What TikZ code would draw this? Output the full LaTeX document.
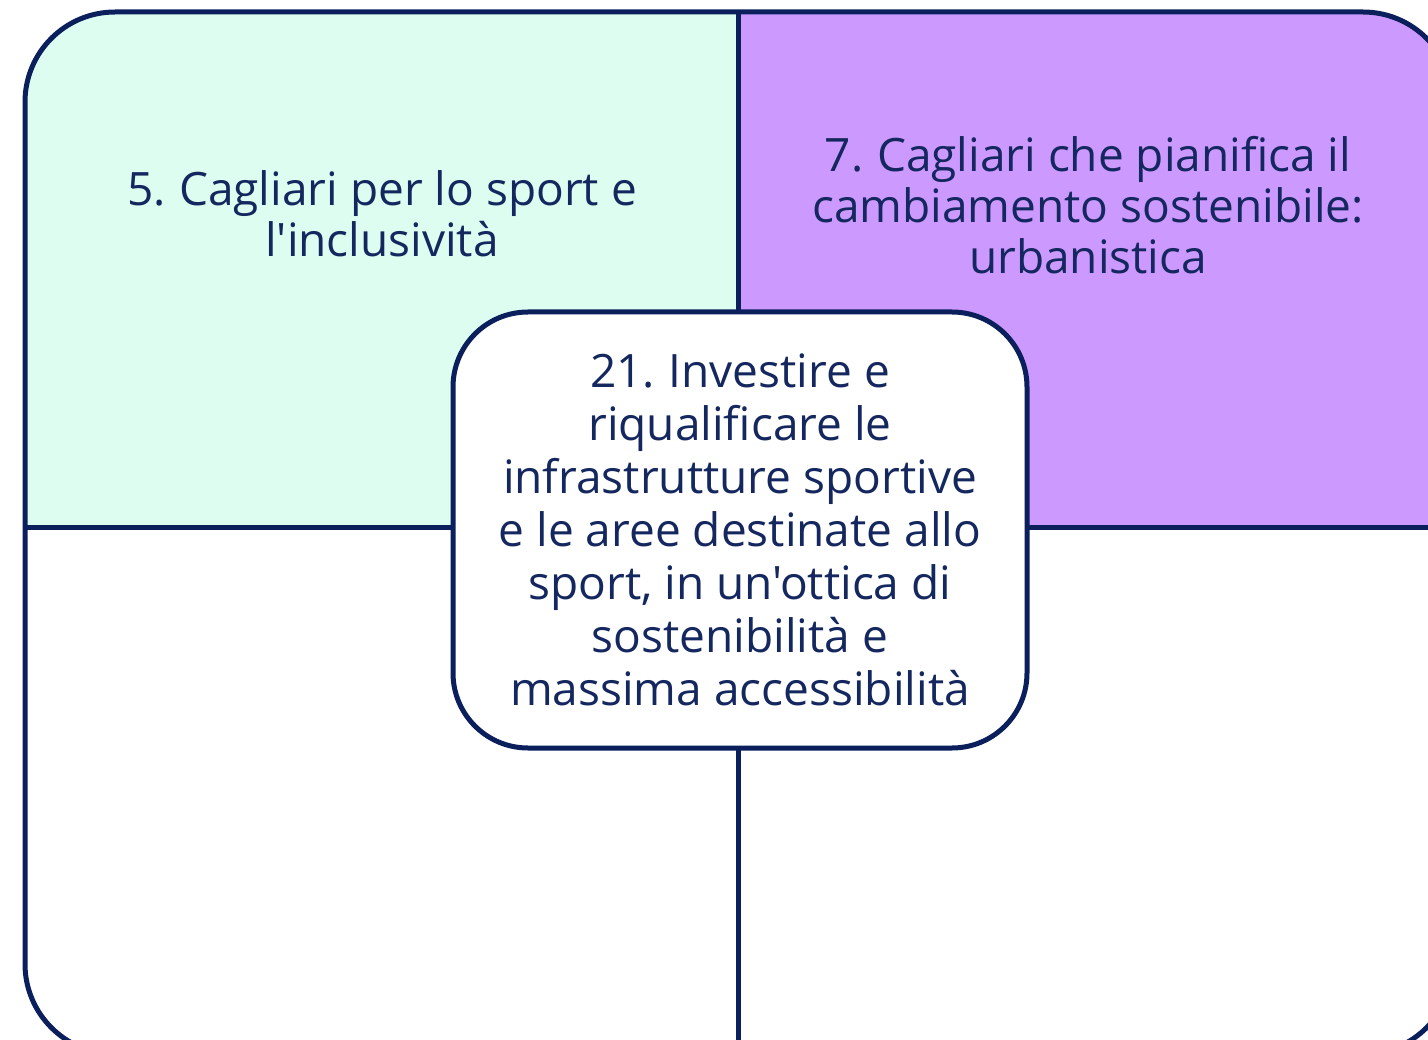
\documentclass[tikz,border=0pt]{standalone}
\usepackage{fontspec}
\setmainfont{Open Sans}[Ligatures=TeXOff]
\definecolor{navy}{HTML}{0A1F5C}
\definecolor{txt}{HTML}{14275E}
\definecolor{mint}{HTML}{DCFDF0}
\definecolor{purp}{HTML}{CC99FF}
\tikzset{
  divider/.style={draw=navy, line width=5pt},
  qlabel/.style={text=txt, align=center, font=\fontsize{46}{51}\selectfont, inner sep=0pt},
  centerbox/.style={draw=navy, fill=white, line width=5pt, rounded corners=75pt,
    minimum width=574pt, minimum height=436pt, align=center, inner sep=0pt,
    text=txt, font=\fontsize{46}{53}\selectfont}
}
\begin{document}
\begin{tikzpicture}[x=1pt,y=-1pt]
\useasboundingbox (0,0) rectangle (1428,1040);
\begin{scope}
  \clip (0,0) rectangle (1428,1040);
  \begin{scope}
    \clip[rounded corners=90pt] (25,12) rectangle (1453,1054);
    \fill[mint] (25,12) rectangle (738,528);
    \fill[purp] (738,12) rectangle (1453,528);
    \fill[white] (25,528) rectangle (1453,1054);
  \end{scope}
  \draw[divider] (738,12) -- (738,1054);
  \draw[divider] (25,528) -- (1453,528);
  \draw[divider, rounded corners=90pt] (25,12) rectangle (1453,1054);
\end{scope}
\node[qlabel] (tl) at (382,214) {5.\kern-0.05em{} Cagliari per lo sport e\\l'inclusività};
\node[qlabel] (tr) at (1088,205) {7.\kern-0.05em{} Cagliari che pianifica il\\cambiamento sostenibile:\\urbanistica};
\node[centerbox] (c) at (740,530) {21.\kern-0.05em{} Investire e\\riqualificare le\\infrastrutture sportive\\e le aree destinate allo\\sport, in un'ottica di\\sostenibilità e\\massima accessibilità};
\end{tikzpicture}
\end{document}
